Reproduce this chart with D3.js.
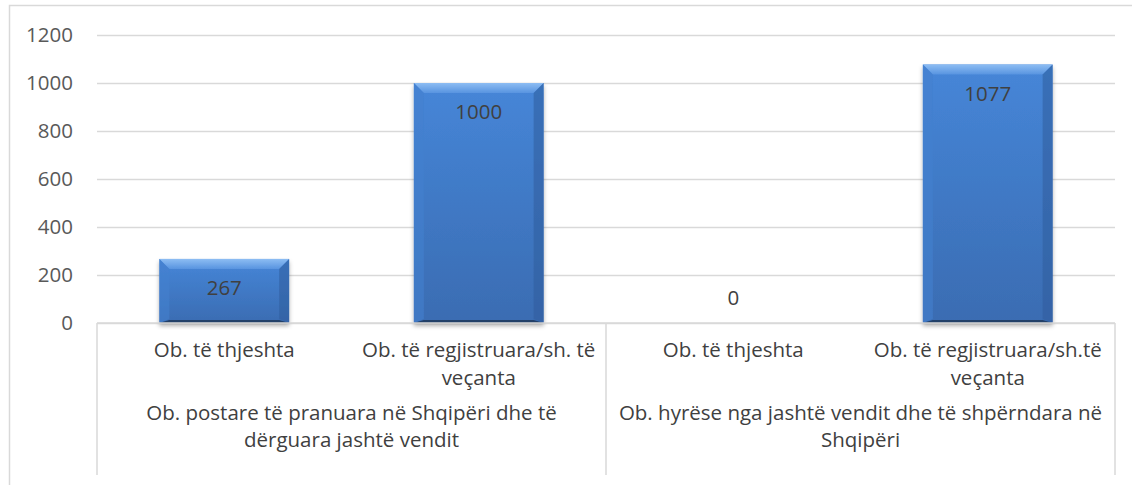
<!DOCTYPE html>
<html>
<head>
<meta charset="utf-8">
<script src="https://cdn.jsdelivr.net/npm/d3@7"></script>
<style>
  body { margin: 0; background: #fff; }
  svg { display: block; font-family: 'Open Sans', sans-serif; }
</style>
</head>
<body>
<div id="graf"></div>
<script>
// datos
grupos = [
  ['Ob. postare të pranuara në Shqipëri dhe të', 'dërguara jashtë vendit'],
  ['Ob. hyrëse nga jashtë vendit dhe të shpërndara në', 'Shqipëri']
]
categorias = ['c1', 'c2', 'c3', 'c4']
etiquetas = [
  ['Ob. të thjeshta'],
  ['Ob. të regjistruara/sh. të', 'veçanta'],
  ['Ob. të thjeshta'],
  ['Ob. të regjistruara/sh.të', 'veçanta']
]
valores = [267, 1000, 0, 1077]
ticksY = [0, 200, 400, 600, 800, 1000, 1200]

ancho_total = 1132
alto_total = 485
margins = { top: 35, left: 97, right: 17, bottom: 162 }
ancho = ancho_total - margins.left - margins.right
alto = alto_total - margins.top - margins.bottom
tamLetra = '20.5px'

svg = d3.select('#graf').append('svg')
  .attr('width', ancho_total)
  .attr('height', alto_total)

defs = svg.append('defs')
sombra = defs.append('filter').attr('id', 'sombra')
  .attr('x', '-10%').attr('y', '-10%').attr('width', '120%').attr('height', '120%')
sombra.append('feDropShadow')
  .attr('dx', 0).attr('dy', 3).attr('stdDeviation', 2)
  .attr('flood-color', '#000').attr('flood-opacity', 0.3)

gradCuerpo = defs.append('linearGradient').attr('id', 'cuerpo')
  .attr('x1', 0).attr('y1', 0).attr('x2', 0).attr('y2', 1)
gradCuerpo.append('stop').attr('offset', '0%').attr('stop-color', '#4686d8')
gradCuerpo.append('stop').attr('offset', '100%').attr('stop-color', '#3a6cb2')

gradTop = defs.append('linearGradient').attr('id', 'tapa')
  .attr('x1', 0).attr('y1', 0).attr('x2', 0).attr('y2', 1)
gradTop.append('stop').attr('offset', '0%').attr('stop-color', '#8dbdf3')
gradTop.append('stop').attr('offset', '100%').attr('stop-color', '#5894e0')

// marco exterior
svg.append('rect')
  .attr('x', 9.5).attr('y', 5.5)
  .attr('width', 1140).attr('height', 500)
  .attr('fill', 'none')
  .attr('stroke', '#d9d9d9')
  .attr('stroke-width', 1.5)

g = svg.append('g')
  .attr('transform', `translate(${ margins.left }, ${ margins.top })`)

y = d3.scaleLinear()
  .domain([0, 1200])
  .range([alto, 0])

x = d3.scaleBand()
  .domain(categorias)
  .range([0, ancho])
  .paddingInner(0.49)
  .paddingOuter(0.245)

// eje y con rejilla
yAxisCall = d3.axisLeft(y)
  .tickValues(ticksY)
  .tickFormat(d3.format('d'))
  .tickSize(-ancho)
  .tickPadding(24)

yAxisGroup = g.append('g').call(yAxisCall)
yAxisGroup.select('.domain').remove()
yAxisGroup.selectAll('line')
  .attr('stroke', '#d9d9d9')
  .attr('stroke-width', 1.5)
yAxisGroup.selectAll('text')
  .attr('fill', '#595959')
  .style('font-size', tamLetra)
  .style('font-family', "'Open Sans', sans-serif")

// barras
bisel = 10
barras = g.selectAll('.barra')
  .data(valores.map((v, i) => ({ cat: categorias[i], v: v })).filter(d => d.v > 0))
  .enter().append('g')
  .attr('class', 'barra')
  .attr('filter', 'url(#sombra)')

barras.append('rect')
  .attr('x', d => x(d.cat))
  .attr('y', d => y(d.v))
  .attr('width', x.bandwidth())
  .attr('height', d => alto - y(d.v))
  .attr('fill', 'url(#cuerpo)')

poligono = pts => pts.map(p => p.join(',')).join(' ')

// tapa superior
barras.append('polygon')
  .attr('fill', 'url(#tapa)')
  .attr('points', d => {
    x0 = x(d.cat); x1 = x0 + x.bandwidth(); y0 = y(d.v)
    return poligono([[x0, y0], [x1, y0], [x1 - bisel, y0 + bisel], [x0 + bisel, y0 + bisel]])
  })
// lado izquierdo
barras.append('polygon')
  .attr('fill', '#4580cf')
  .attr('opacity', 0.6)
  .attr('points', d => {
    x0 = x(d.cat); y0 = y(d.v); y1 = alto
    return poligono([[x0, y0], [x0 + bisel, y0 + bisel], [x0 + bisel, y1 - 4], [x0, y1]])
  })
// lado derecho
barras.append('polygon')
  .attr('fill', '#2f5d9c')
  .attr('opacity', 0.55)
  .attr('points', d => {
    x1 = x(d.cat) + x.bandwidth(); y0 = y(d.v); y1 = alto
    return poligono([[x1, y0], [x1 - bisel, y0 + bisel], [x1 - bisel, y1 - 4], [x1, y1]])
  })
// borde inferior
barras.append('polygon')
  .attr('fill', '#223f68')
  .attr('points', d => {
    x0 = x(d.cat); x1 = x0 + x.bandwidth(); y1 = alto
    return poligono([[x0, y1], [x1, y1], [x1 - bisel, y1 - 3], [x0 + bisel, y1 - 3]])
  })

// etiquetas de valor
g.selectAll('.valor')
  .data(valores.map((v, i) => ({ cat: categorias[i], v: v })))
  .enter().append('text')
  .attr('class', 'valor')
  .attr('x', d => x(d.cat) + x.bandwidth() / 2)
  .attr('y', d => d.v > 0 ? y(d.v) + 29 : y(0) - 25)
  .attr('dy', '0.35em')
  .attr('text-anchor', 'middle')
  .attr('fill', '#404040')
  .style('font-size', tamLetra)
  .text(d => d.v)

// eje x de dos niveles
ejeX = g.append('g').attr('transform', `translate(0, ${ alto })`)
ejeX.append('line')
  .attr('x1', 0).attr('x2', ancho)
  .attr('stroke', '#d9d9d9').attr('stroke-width', 1.5)

paso = x.step()
limites = [0, 2 * paso, ancho]
ejeX.selectAll('.sep')
  .data(limites)
  .enter().append('line')
  .attr('x1', d => d).attr('x2', d => d)
  .attr('y1', 0).attr('y2', 152)
  .attr('stroke', '#d9d9d9').attr('stroke-width', 1.5)

ejeX.selectAll('.cat')
  .data(categorias)
  .enter().append('text')
  .attr('class', 'cat')
  .attr('text-anchor', 'middle')
  .attr('fill', '#404040')
  .style('font-size', tamLetra)
  .each(function(d, i) {
    t = d3.select(this)
    etiquetas[i].forEach((linea, j) => {
      t.append('tspan')
        .attr('x', x(d) + x.bandwidth() / 2)
        .attr('y', 34 + j * 28)
        .text(linea)
    })
  })

ejeX.selectAll('.grupo')
  .data(grupos)
  .enter().append('text')
  .attr('class', 'grupo')
  .attr('text-anchor', 'middle')
  .attr('fill', '#404040')
  .style('font-size', tamLetra)
  .each(function(d, i) {
    t = d3.select(this)
    cx = (limites[i] + limites[i + 1]) / 2
    d.forEach((linea, j) => {
      t.append('tspan')
        .attr('x', cx)
        .attr('y', 97 + j * 27)
        .text(linea)
    })
  })
</script>
</body>
</html>
